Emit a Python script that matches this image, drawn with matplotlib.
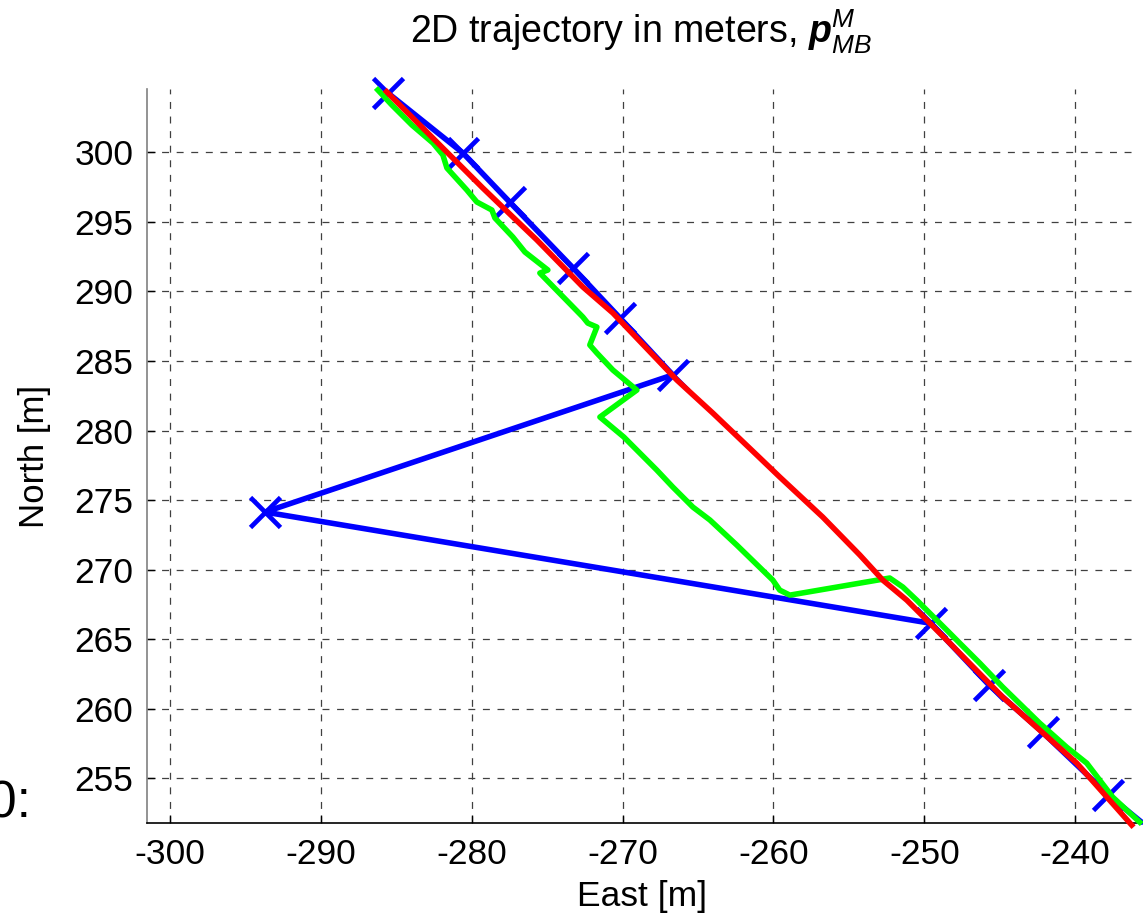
import matplotlib
matplotlib.use("Agg")
import matplotlib.pyplot as plt

plt.rcParams['font.family'] = ['Liberation Sans', 'DejaVu Sans']
plt.rcParams['axes.unicode_minus'] = False
plt.rcParams['mathtext.fontset'] = 'custom'
plt.rcParams['mathtext.rm'] = 'Liberation Sans'
plt.rcParams['mathtext.it'] = 'Liberation Sans:italic'
plt.rcParams['mathtext.bf'] = 'Liberation Sans:bold'
plt.rcParams['mathtext.bfit'] = 'Liberation Sans:italic:bold'
plt.rcParams['lines.scale_dashes'] = False

# GNSS fixes (blue, with x markers at each fix)
gnss_east = [-285.55, -280.58, -277.47, -273.29, -270.18, -266.67, -293.70,
             -249.55, -245.70, -242.15, -237.80, -235.60]
gnss_north = [304.26, 299.95, 296.41, 291.70, 288.10, 284.00, 274.14,
              266.14, 261.70, 258.30, 253.80, 251.85]
gnss_fix_count = 11

# Dead-reckoning track (green)
dr_east = [-286.22, -285.29, -283.96, -282.57, -281.91, -281.64, -280.32, -279.66,
           -278.66, -278.46, -277.27, -276.47, -274.95, -275.48, -272.63, -272.30,
           -271.70, -272.17, -271.70, -270.64, -269.05, -271.50, -269.91, -267.73,
           -266.67, -265.34, -264.21, -262.43, -260.04, -259.58, -258.91, -252.29,
           -251.42, -250.50, -248.31, -247.65, -246.32, -244.80, -242.35, -240.56,
           -239.23, -237.51, -235.72]
dr_north = [304.48, 303.40, 301.96, 300.67, 299.81, 298.87, 297.29, 296.43,
            295.85, 295.28, 293.91, 292.83, 291.54, 291.32, 288.16, 287.72,
            287.44, 286.15, 285.57, 284.35, 282.91, 280.97, 279.53, 277.16,
            275.94, 274.50, 273.57, 271.77, 269.25, 268.53, 268.17, 269.40,
            268.75, 267.81, 265.44, 264.72, 263.28, 261.56, 258.97, 257.24,
            256.09, 253.65, 251.85]

# Filtered estimate (red)
est_east = [-285.64, -282.11, -279.26, -277.27, -275.68, -272.63, -270.64, -266.40,
            -264.02, -261.10, -259.58, -256.73, -254.27, -252.75, -251.16, -248.31,
            -244.80, -239.89, -236.25]
est_north = [304.36, 300.52, 297.43, 295.35, 293.70, 290.32, 288.45, 283.63,
             281.26, 278.24, 276.66, 273.78, 271.05, 269.25, 267.81, 264.72,
             260.84, 256.09, 251.64]

x_ticks = [-300, -290, -280, -270, -260, -250, -240]
y_ticks = [255, 260, 265, 270, 275, 280, 285, 290, 295, 300]

W, H = 1143, 916
fig = plt.figure(figsize=(W / 100, H / 100), dpi=100)
ax = fig.add_axes([147.3 / W, 1 - 823 / H, (1137 - 147.3) / W, (823 - 89) / H])

ax.plot(gnss_east, gnss_north, color='#0000ff', lw=4, marker='x',
        markersize=21, markeredgewidth=3.4, markevery=list(range(gnss_fix_count)),
        solid_capstyle='round', clip_on=False, zorder=3)
ax.plot(dr_east, dr_north, color='#00ff00', lw=4, solid_joinstyle='round',
        clip_on=False, zorder=4)
ax.plot(est_east, est_north, color='#ff0000', lw=4, solid_joinstyle='round',
        clip_on=False, zorder=5)

ax.set_xlim(-301.5, -235.9)
ax.set_ylim(251.79, 304.55)
ax.set_xticks(x_ticks)
ax.set_yticks(y_ticks)
ax.tick_params(direction='in', length=6, width=1, labelsize=25.5, colors='black')
ax.tick_params(axis='y', pad=10)
ax.tick_params(axis='x', pad=11)

ax.grid(True, color='0.25', lw=0.9, linestyle=(0, (5, 5.5)))
ax.set_axisbelow(True)
for side in ('top', 'right'):
    ax.spines[side].set_visible(False)
ax.spines['left'].set_color('0.5')
ax.spines['left'].set_linewidth(1.2)
ax.spines['bottom'].set_color('black')
ax.spines['bottom'].set_linewidth(1.2)

ax.set_xlabel('East [m]', fontsize=25.5, labelpad=6)
ax.set_ylabel('North [m]', fontsize=25, labelpad=17)

fig.text(641 / W, 1 - 44 / H, r'2D trajectory in meters, $\mathbfit{p}^{M}_{MB}$',
         fontsize=27, ha='center', va='baseline')
fig.text(31 / W, 1 - 818 / H, '0:', fontsize=37, ha='right', va='baseline')

fig.savefig('out.png', dpi=100)
